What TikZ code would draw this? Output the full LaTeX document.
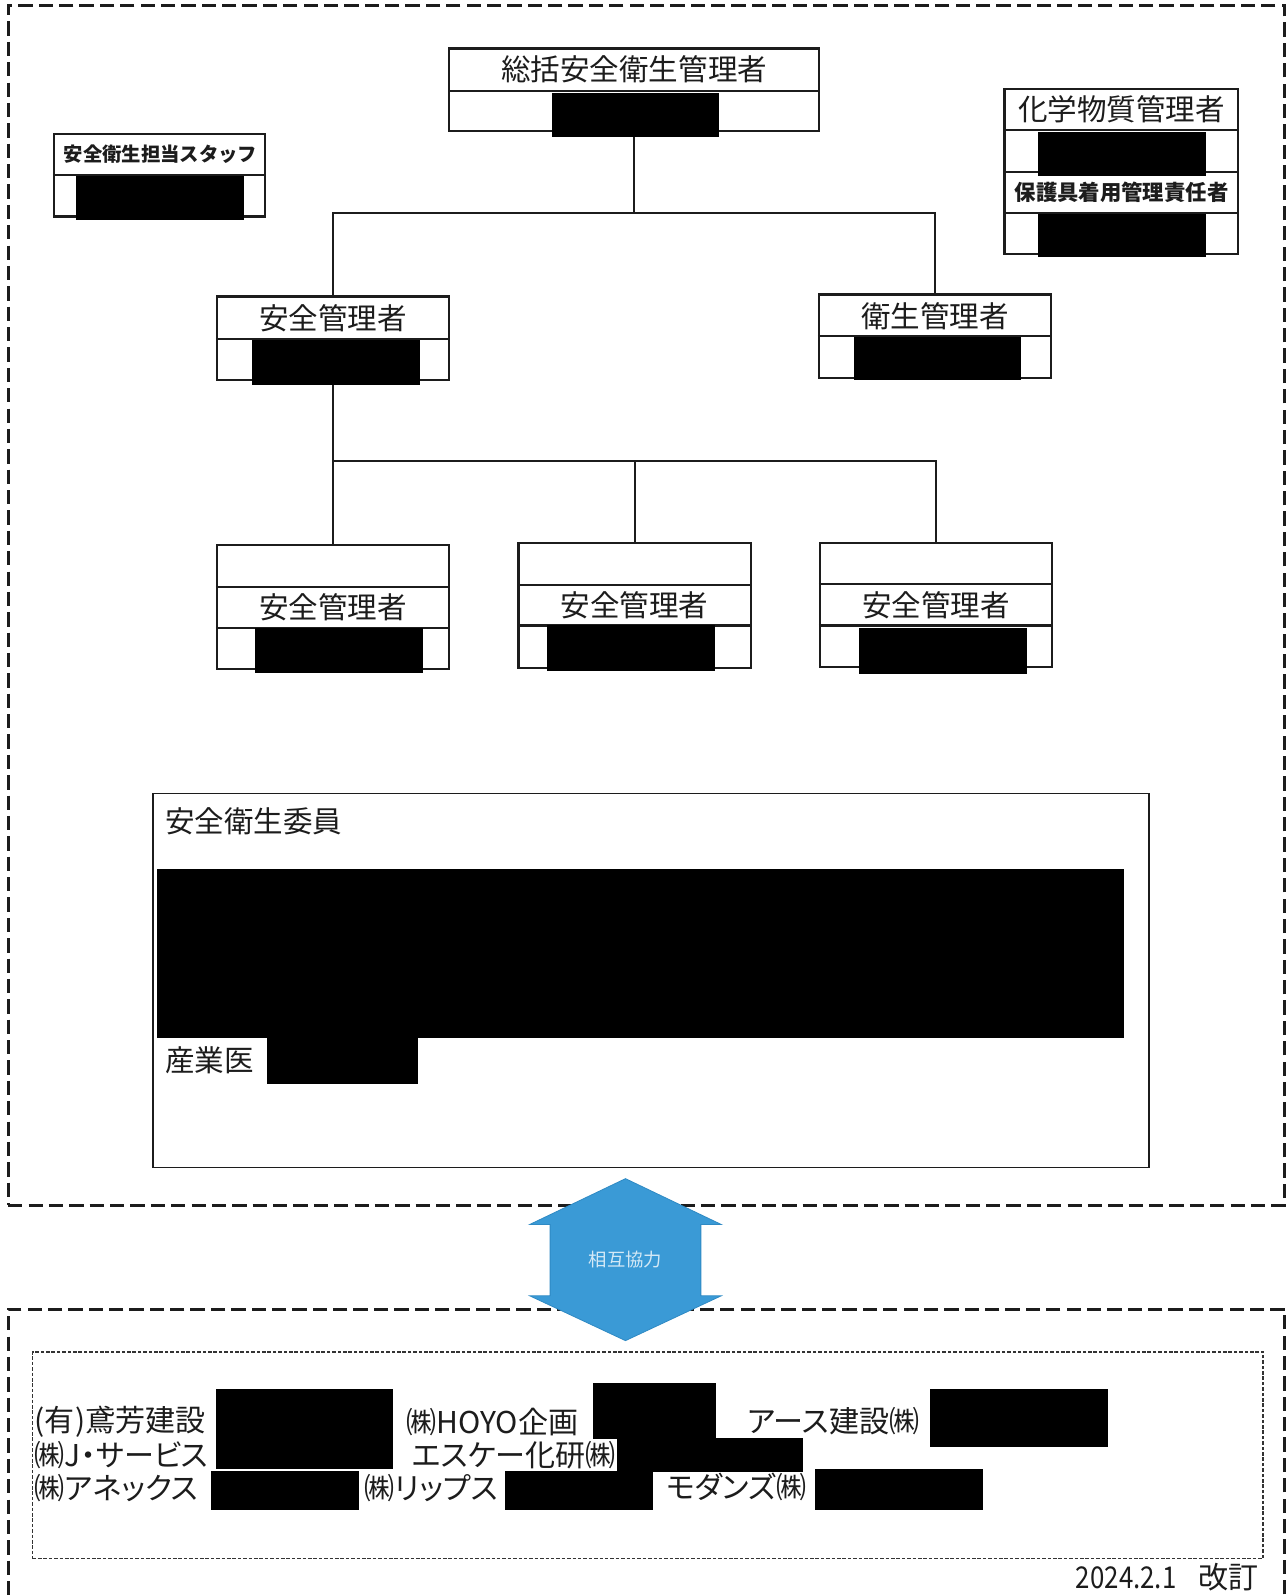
\documentclass[tikz,border=0pt]{standalone}
\usepackage{fontspec}
\setmainfont{Noto Sans CJK JP}
\newfontfamily\jpprop[RawFeature=+palt]{Noto Sans CJK JP}
\newfontfamily\jpnarrow[FakeStretch=0.86]{Noto Sans CJK JP}
\newcommand\myfs[1]{\fontsize{#1}{#1}\selectfont}
\newcommand\mydiv[2]{\draw[divider] (#1.west |- 0,#2) -- (#1.east |- 0,#2);}
\definecolor{ink}{HTML}{1C1C1C}
\definecolor{arrowblue}{HTML}{3A9AD6}
\definecolor{arrowedge}{HTML}{2F8AC4}
\definecolor{arrowtext}{HTML}{D4E9F6}
\begin{document}
\begin{tikzpicture}[x=1pt,y=-1pt,
  frame/.style={draw=ink, line width=3pt, dash pattern=on 14pt off 6pt, rectangle, inner sep=0pt},
  dotframe/.style={draw=ink!90, line width=1.5pt, dash pattern=on 3.5pt off 1.8pt, rectangle, inner sep=0pt},
  box/.style={draw=ink, line width=2.2pt, rectangle, inner sep=0pt},
  divider/.style={draw=ink, line width=2pt},
  conn/.style={draw=ink, line width=2pt},
  redact/.style={fill=black, rectangle, inner sep=0pt},
  title/.style={text=ink, inner sep=0pt, font=\myfs{29}},
  small/.style={text=ink, inner sep=0pt, font=\jpprop\myfs{29.5}},
]
\useasboundingbox (0,0) rectangle (1262.3,1566.7);
\fill[white] (0,0) rectangle (1286,1596);

% outer frames
\node[frame, minimum width=1253pt, minimum height=1178pt] (topframe) at (634.5,594) {};
\node[frame, minimum width=1253pt, minimum height=307pt] (botframe) at (634.5,1438.5) {};
\node[dotframe, minimum width=1208pt, minimum height=203pt] (inner) at (636,1428.5) {};

% boxes
\node[box, minimum width=363pt, minimum height=81pt] (sokatsu) at (622.5,88) {};
\mydiv{sokatsu}{89}
\node[box, minimum width=207pt, minimum height=81pt] (staff) at (156.5,172) {};
\mydiv{staff}{172}
\node[box, minimum width=229pt, minimum height=162pt] (chem) at (1100.5,168) {};
\mydiv{chem}{128}
\mydiv{chem}{169}
\mydiv{chem}{209}
\node[box, minimum width=228pt, minimum height=82pt] (anzen) at (327,332) {};
\mydiv{anzen}{333}
\node[box, minimum width=228pt, minimum height=82pt] (eisei) at (918,330) {};
\mydiv{eisei}{330}
\node[box, minimum width=228pt, minimum height=122pt] (s1) at (327,596) {};
\mydiv{s1}{576}
\mydiv{s1}{616}
\node[box, minimum width=228pt, minimum height=123pt] (s2) at (623,594.5) {};
\mydiv{s2}{574}
\mydiv{s2}{614}
\node[box, minimum width=228pt, minimum height=122pt] (s3) at (919,594) {};
\mydiv{s3}{573}
\mydiv{s3}{614}
\node[box, line width=1.6pt, minimum width=978pt, minimum height=367pt] (committee) at (639,962.5) {};

% connectors
\coordinate (j1) at (622.5,209);
\coordinate (j2) at (623,453);
\draw[conn] (sokatsu.south) -- (j1);
\draw[conn] (anzen.north) |- (j1) -| (eisei.north);
\draw[conn] (anzen.south) -- (s1.north);
\draw[conn] (s1.north |- j2) -| (s3.north);
\draw[conn] (j2) -- (s2.north);

% redactions
\node[redact, minimum width=164pt, minimum height=43pt] (rsok) at (624,112.5) {};
\node[redact, minimum width=165pt, minimum height=43pt] (rstaff) at (157.5,194.5) {};
\node[redact, minimum width=165pt, minimum height=43pt] (rchem1) at (1101,151.5) {};
\node[redact, minimum width=165pt, minimum height=42pt] (rchem2) at (1101,231) {};
\node[redact, minimum width=165pt, minimum height=44pt] (ranzen) at (329.5,356) {};
\node[redact, minimum width=164pt, minimum height=42pt] (reisei) at (920,352) {};
\node[redact, minimum width=165pt, minimum height=45pt] (rs1) at (332.5,638.5) {};
\node[redact, minimum width=165pt, minimum height=45pt] (rs2) at (619.5,636.5) {};
\node[redact, minimum width=165pt, minimum height=45pt] (rs3) at (925.5,639) {};
\node[redact, minimum width=949pt, minimum height=166pt] (rcom) at (628.5,936) {};
\node[redact, minimum width=148pt, minimum height=46pt] (rdoc) at (336,1041) {};
\node[redact, minimum width=174pt, minimum height=79pt] (ra) at (299,1402.5) {};
\node[redact, minimum width=121pt, minimum height=55pt] (rb1) at (642.5,1385.5) {};
\node[redact, minimum width=182pt, minimum height=33pt] (rb2) at (697,1428) {};
\node[redact, minimum width=175pt, minimum height=57pt] (rc) at (1000.5,1391.5) {};
\node[redact, minimum width=145pt, minimum height=38pt] (rd) at (279.5,1463) {};
\node[redact, minimum width=145pt, minimum height=38pt] (re) at (568.5,1463) {};
\node[redact, minimum width=165pt, minimum height=40pt] (rf) at (882.5,1462) {};

% titles
\node[title] (tsok) at (622.5,68) {総括安全衛生管理者};
\node[text=ink, inner sep=0pt, font=\myfs{19}\bfseries] (tstaff) at (157.5,151) {安全衛生担当スタッフ};
\node[title] (tchem) at (1101,107) {化学物質管理者};
\node[text=ink, inner sep=0pt, font=\myfs{21}\bfseries] (tprot) at (1101,189) {保護具着用管理責任者};
\node[title] (tanzen) at (327,312) {安全管理者};
\node[title] (teisei) at (918,310) {衛生管理者};
\node[title] (ts1) at (327,596) {安全管理者};
\node[title] (ts2) at (623,594) {安全管理者};
\node[title] (ts3) at (919,594) {安全管理者};
\node[title, anchor=west] (tcom) at (162,806) {安全衛生委員};
\node[title, anchor=west] (tdoc) at (162,1041) {産業医};

% cooperation arrow
\filldraw[fill=arrowblue, draw=arrowedge, line width=0.8pt]
  (614,1157) -- (708,1202) -- (688,1202) -- (688,1272) -- (708,1272) -- (614,1316)
  -- (520,1272) -- (540,1272) -- (540,1202) -- (520,1202) -- cycle;
\node[text=arrowtext, inner sep=0pt, font=\myfs{18}] (coop) at (614,1236) {相互協力};

% companies
\node[small, anchor=west] (c1) at (34,1396) {(有)鳶芳建設};
\node[small, anchor=west] (c2) at (399,1396) {㈱HOYO企画};
\node[small, anchor=west] (c3) at (734,1395) {アース建設㈱};
\node[small, anchor=west] (c4) at (34,1428) {㈱J・サービス};
\node[small, anchor=west] (c5) at (404,1428) {エスケー化研㈱};
\node[small, anchor=west] (c6) at (34,1461) {㈱アネックス};
\node[small, anchor=west] (c7) at (358,1461) {㈱リップス};
\node[small, anchor=west] (c8) at (654,1460) {モダンズ㈱};

\node[small, anchor=east] (date) at (1236,1548) {{\jpnarrow 2024.2.1}\hspace{22pt}改訂};
\end{tikzpicture}
\end{document}
